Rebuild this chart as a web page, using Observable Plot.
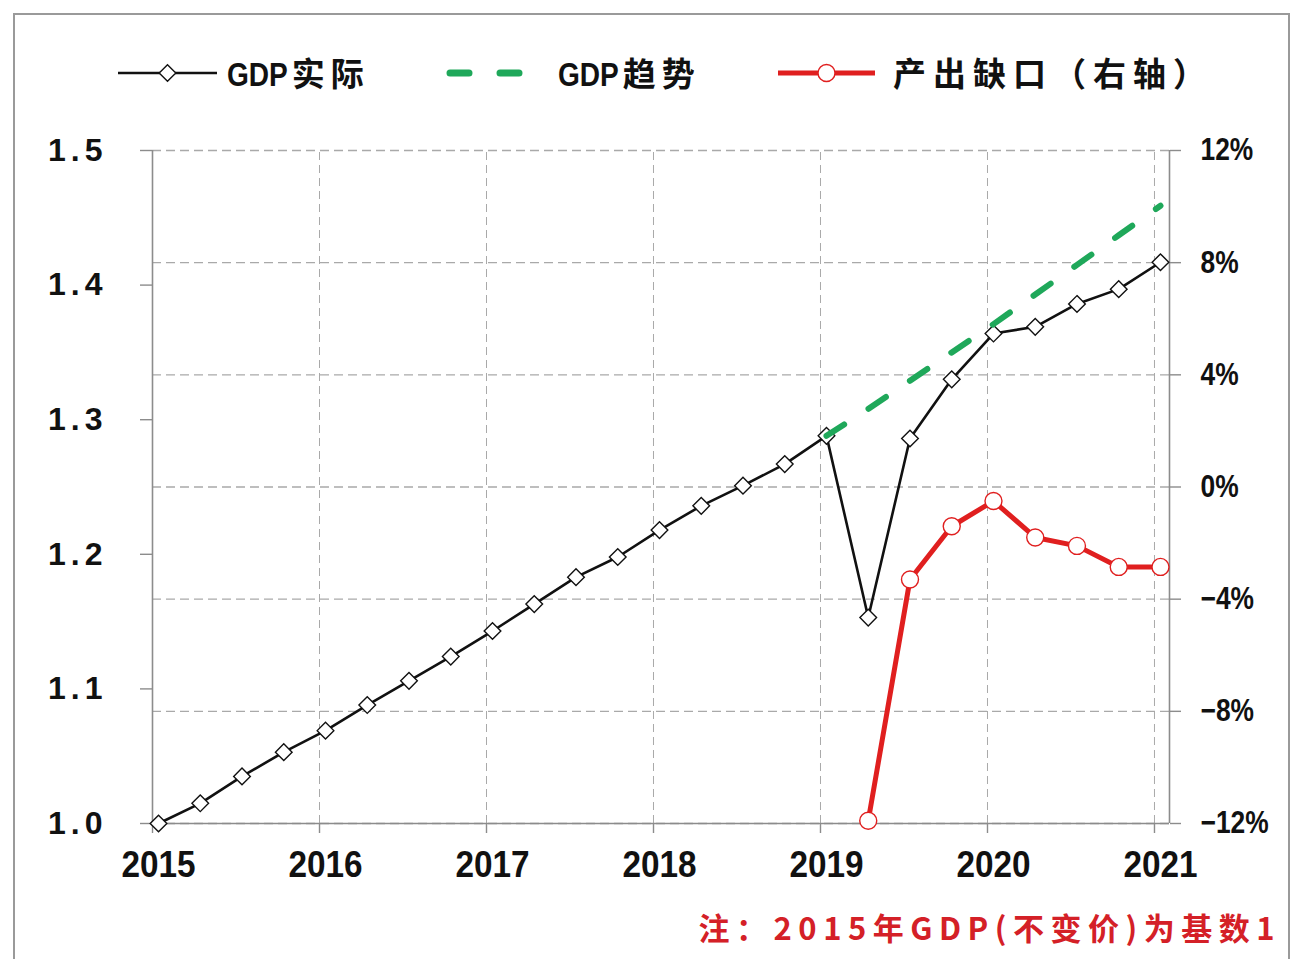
<!DOCTYPE html>
<html><head><meta charset="utf-8">
<script src="https://cdn.jsdelivr.net/npm/d3@7"></script>
<script src="https://cdn.jsdelivr.net/npm/@observablehq/plot@0.6"></script>
<style>
body{margin:0;background:#fff;}
#wrap{position:relative;width:1294px;height:959px;overflow:hidden;background:#fff;}
#frame{position:absolute;left:13px;top:13px;width:1277px;height:1100px;border:2px solid #9a9a9a;box-sizing:border-box;}
#legend{position:absolute;left:0;top:0;}
#chart{position:absolute;left:0;top:100px;}
#note{position:absolute;left:0;top:880px;}
</style>
</head><body>
<div id="wrap"><div id="frame"></div><div id="legend"></div><div id="chart"></div><div id="note"></div></div>
<script>
const quarters = [2015,2015.25,2015.5,2015.75,2016,2016.25,2016.5,2016.75,2017,2017.25,2017.5,2017.75,2018,2018.25,2018.5,2018.75,2019,2019.25,2019.5,2019.75,2020,2020.25,2020.5,2020.75,2021];
const gdpActual = [1.000,1.015,1.035,1.053,1.069,1.088,1.106,1.124,1.143,1.163,1.183,1.198,1.218,1.236,1.251,1.267,1.288,1.153,1.286,1.330,1.364,1.369,1.386,1.397,1.417];
const trendQuarters = [2019,2019.25,2019.5,2019.75,2020,2020.25,2020.5,2020.75,2021];
const gdpTrend = [1.288,1.308,1.329,1.350,1.371,1.393,1.415,1.437,1.459];
const gapQuarters = [2019.25,2019.5,2019.75,2020,2020.25,2020.5,2020.75,2021];
const outputGap = [-11.9,-3.3,-1.4,-0.5,-1.8,-2.1,-2.85,-2.85];
const yearTicks = [2015,2016,2017,2018,2019,2020,2021];
const leftTicks = [1.0,1.1,1.2,1.3,1.4,1.5];
const rightTicks = [-12,-8,-4,0,4,8,12];
const legendLabels = ["GDP实际","GDP趋势","产出缺口（右轴）"];
const noteText = "注：2015年GDP(不变价)为基数1";

const BLACK = "#111", GREEN = "#1fa85a", RED = "#e01f1f", AXIS = "#8c8c8c", GRID = "#a9a9a9";
const NUMFONT = "'Liberation Sans',Arial,sans-serif";
const CJKFONT = "'Noto Sans CJK SC',sans-serif";

// right axis (percent) mapped onto left scale: -12% -> 1.0, 12% -> 1.5
const toLeft = p => 1.25 + p / 48;
const fromLeft = v => Math.round((v - 1.25) * 48);

const actual = quarters.map((q, i) => ({q, v: gdpActual[i]}));
const trend = trendQuarters.map((q, i) => ({q, v: gdpTrend[i]}));
const gap = gapQuarters.map((q, i) => ({q, g: outputGap[i]}));

const xDom = [2014.964, 2021.054];

const chart = Plot.plot({
  width: 1294, height: 800,
  marginTop: 50, marginBottom: 77, marginLeft: 152, marginRight: 125,
  x: {domain: xDom},
  y: {domain: [1.0, 1.5]},
  style: {background: "transparent", overflow: "visible"},
  marks: [
    Plot.ruleX(yearTicks.slice(1), {y1: 1.0, y2: 1.5, dx: -6, stroke: GRID, strokeDasharray: "8,5", strokeWidth: 1}),
    Plot.ruleY(rightTicks.map(toLeft), {x1: xDom[0], x2: xDom[1], stroke: GRID, strokeDasharray: "9,5", strokeWidth: 1.3}),
    Plot.ruleX([xDom[0], xDom[1]], {y1: 1.0, y2: 1.5, stroke: AXIS, strokeWidth: 1.6}),
    Plot.ruleY([1.0], {x1: xDom[0], x2: xDom[1], stroke: AXIS, strokeWidth: 1.6}),
    Plot.axisX({ticks: yearTicks, tickSize: 10, dx: -6, tickFormat: () => "", stroke: AXIS, strokeWidth: 1.4, label: null}),
    Plot.axisX({ticks: yearTicks, tickSize: 0, tickPadding: 27, tickFormat: d => String(d), label: null,
      fontFamily: NUMFONT, fontWeight: "bold", fontSize: 37, fill: "#111"}),
    Plot.axisY({ticks: leftTicks, anchor: "left", tickSize: 12, tickPadding: 33, tickFormat: d => d.toFixed(1), label: null,
      stroke: AXIS, strokeWidth: 1.4, fontFamily: NUMFONT, fontWeight: "bold", fontSize: 32, fill: "#111"}),
    Plot.axisY({ticks: rightTicks.map(toLeft), anchor: "right", tickSize: 11, tickPadding: 20, label: null,
      tickFormat: v => { const p = fromLeft(v); return (p < 0 ? "\u2212" + Math.abs(p) : String(p)) + "%"; },
      stroke: AXIS, strokeWidth: 1.4, fontFamily: NUMFONT, fontWeight: "bold", fontSize: 31, fill: "#111"}),
    Plot.line(actual, {x: "q", y: "v", stroke: BLACK, strokeWidth: 2.6}),
    Plot.dot(actual, {x: "q", y: "v", symbol: "diamond2", r: 7.5, fill: "white", stroke: BLACK, strokeWidth: 1.4}),
    Plot.line(trend, {x: "q", y: "v", stroke: GREEN, strokeWidth: 6, strokeDasharray: "21,29", strokeLinecap: "round"}),
    Plot.line(gap, {x: "q", y: d => toLeft(d.g), stroke: RED, strokeWidth: 5}),
    Plot.dot(gap, {x: "q", y: d => toLeft(d.g), r: 8.5, fill: "white", stroke: RED, strokeWidth: 1.4})
  ]
});
document.getElementById("chart").appendChild(chart);

function condense(el, factor) {
  const w = el.getComputedTextLength();
  if (w > 0) { el.setAttribute("textLength", (w * factor).toFixed(1)); el.setAttribute("lengthAdjust", "spacingAndGlyphs"); }
  return w > 0 ? w * factor : 0;
}
const xLabelGroups = chart.querySelectorAll('g[aria-label="x-axis tick label"]');
xLabelGroups.forEach(g => g.querySelectorAll("text").forEach(t => condense(t, 0.9)));
const yLabelGroups = chart.querySelectorAll('g[aria-label="y-axis tick label"]');
if (yLabelGroups[0]) yLabelGroups[0].style.letterSpacing = "5px";
if (yLabelGroups[1]) yLabelGroups[1].querySelectorAll("text").forEach(t => condense(t, 0.85));

// Legend labels: Latin prefix condensed, CJK part spaced out, as consecutive text pieces.
function writeMixed(parent, text, x, y, opts) {
  const parts = text.match(/[A-Za-z0-9]+|[^A-Za-z0-9]+/g);
  const g = parent.append("g");
  let cx = x;
  parts.forEach(p => {
    const latin = /^[A-Za-z0-9]+$/.test(p);
    const t = g.append("text").attr("x", cx).attr("y", y)
      .attr("font-family", latin ? NUMFONT : CJKFONT).attr("font-weight", "bold")
      .attr("font-size", opts.size).attr("fill", opts.fill).text(p);
    if (latin) { cx += condense(t.node(), opts.squeeze) + opts.gap; }
    else { t.attr("letter-spacing", opts.ls); cx += t.node().getComputedTextLength() + opts.gap; }
  });
  return g;
}

const lg = d3.select("#legend").append("svg").attr("width", 1294).attr("height", 110);
const items = [
  {x0: 118, x1: 217, mark: "diamond", color: BLACK, tx: 227, ls: 6},
  {x0: 447, x1: 525, mark: "dash", color: GREEN, tx: 558, ls: 6},
  {x0: 778, x1: 875, mark: "circle", color: RED, tx: 893, ls: 7}
];
const ly = 73;
items.forEach((it, i) => {
  const g = lg.append("g");
  if (it.mark === "dash") {
    g.append("line").attr("x1", it.x0 + 3).attr("x2", it.x1 - 3).attr("y1", ly).attr("y2", ly)
      .attr("stroke", it.color).attr("stroke-width", 7).attr("stroke-dasharray", "19,31").attr("stroke-linecap", "round");
  } else {
    g.append("line").attr("x1", it.x0).attr("x2", it.x1).attr("y1", ly).attr("y2", ly)
      .attr("stroke", it.color).attr("stroke-width", it.mark === "circle" ? 5 : 2.6);
    const cx = (it.x0 + it.x1) / 2;
    if (it.mark === "diamond") {
      g.append("path").attr("d", d3.symbol(d3.symbolDiamond2, Math.PI * 56)()).attr("transform", `translate(${cx},${ly})`)
        .attr("fill", "white").attr("stroke", it.color).attr("stroke-width", 1.4);
    } else {
      g.append("circle").attr("cx", cx).attr("cy", ly).attr("r", 8.5).attr("fill", "white").attr("stroke", it.color).attr("stroke-width", 1.4);
    }
  }
  writeMixed(g, legendLabels[i], it.tx, 86, {size: 33, fill: "#111", squeeze: 0.85, ls: it.ls, gap: 4});
});

// note (caption below the chart), right-aligned at x = 1275
const ns = d3.select("#note").append("svg").attr("width", 1294).attr("height", 79);
ns.append("text").attr("x", 1281).attr("y", 60).attr("text-anchor", "end")
  .attr("font-family", CJKFONT).attr("font-weight", "bold").attr("font-size", 31).attr("fill", "#d42027")
  .attr("letter-spacing", 6.5).text(noteText);
</script>
</body></html>
